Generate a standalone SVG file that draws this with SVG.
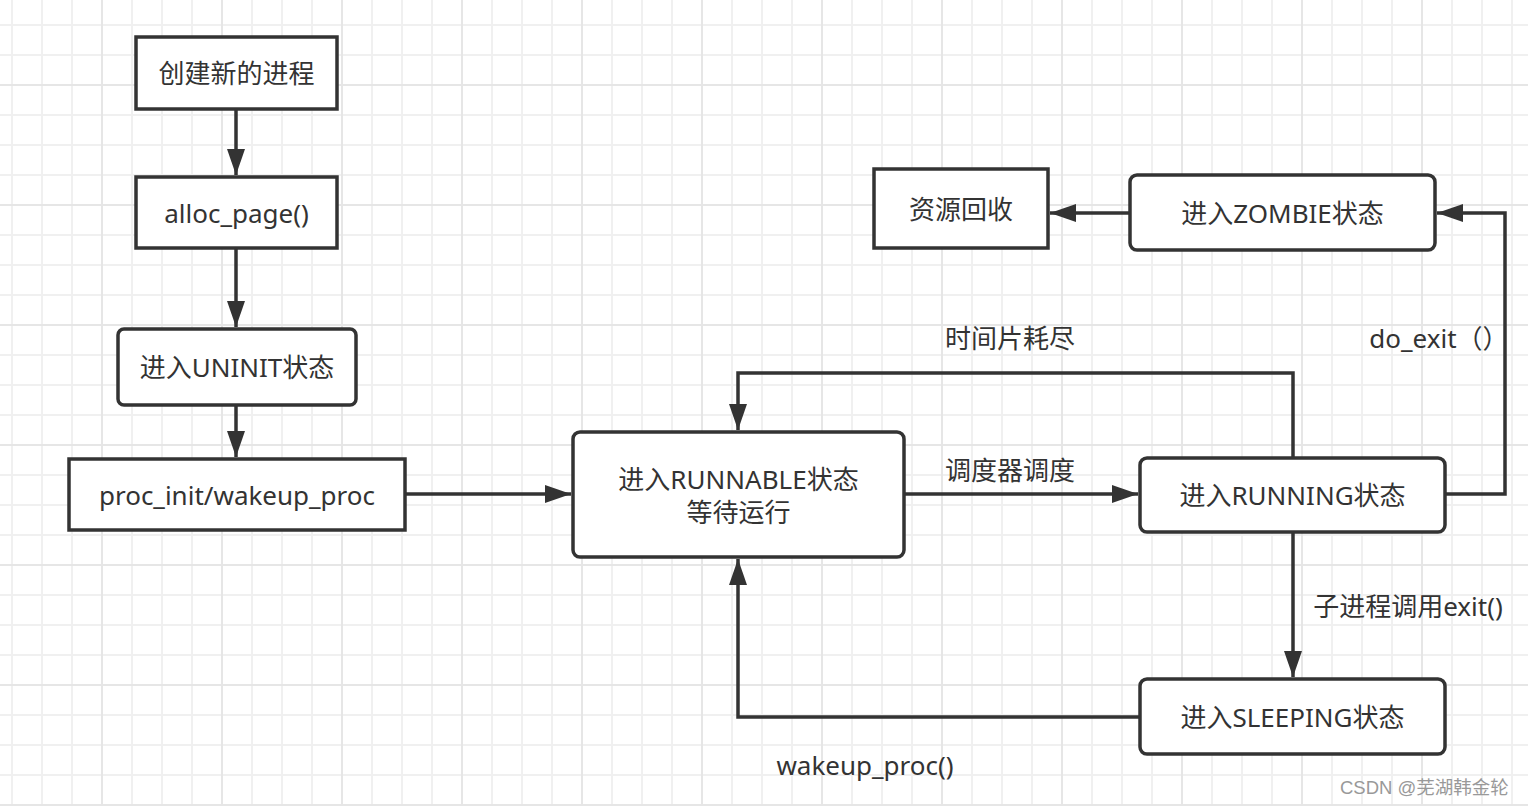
<svg xmlns="http://www.w3.org/2000/svg" width="1528" height="806" viewBox="0 0 1528 806">
<style>
.box{fill:#fff;stroke:#333;stroke-width:3.5}
.t{font-family:"Noto Sans","Noto Sans CJK SC",sans-serif;font-size:26px;fill:#333;text-anchor:middle;dominant-baseline:central}
.ln{fill:none;stroke:#333;stroke-width:3.5}
.wm{font-family:"Liberation Sans","Noto Sans CJK SC",sans-serif;font-size:18.5px;fill:#999;dominant-baseline:central}
</style>
<defs>
<pattern id="g1" x="11" y="24" width="30" height="30" patternUnits="userSpaceOnUse">
<rect x="0" y="0" width="2" height="30" fill="#f0f0f0"/>
<rect x="0" y="0" width="30" height="2" fill="#f0f0f0"/>
</pattern>
<pattern id="g2" x="101" y="84" width="120" height="120" patternUnits="userSpaceOnUse">
<rect x="0" y="0" width="2" height="120" fill="#e6e6e6"/>
<rect x="0" y="0" width="120" height="2" fill="#e6e6e6"/>
</pattern>
<marker id="ah" viewBox="0 0 26 18" refX="26" refY="9" markerWidth="26" markerHeight="18" markerUnits="userSpaceOnUse" orient="auto">
<path d="M0,0 L26,9 L0,18 Z" fill="#333"/>
</marker>
</defs>
<rect width="1528" height="806" fill="#fff"/>
<rect width="1528" height="806" fill="url(#g1)"/>
<rect width="1528" height="806" fill="url(#g2)"/>

<g id="connectors">
<path class="ln" d="M236,109 V175" marker-end="url(#ah)"/>
<path class="ln" d="M236,248 V327" marker-end="url(#ah)"/>
<path class="ln" d="M236,405 V457" marker-end="url(#ah)"/>
<path class="ln" d="M405,494 H571" marker-end="url(#ah)"/>
<path class="ln" d="M904,494 H1138" marker-end="url(#ah)"/>
<path class="ln" d="M1293,458 V373 H738 V430" marker-end="url(#ah)"/>
<path class="ln" d="M1445,494 H1505 V213 H1437" marker-end="url(#ah)"/>
<path class="ln" d="M1130,213 H1050" marker-end="url(#ah)"/>
<path class="ln" d="M1293,532 V677" marker-end="url(#ah)"/>
<path class="ln" d="M1140,717 H738 V559" marker-end="url(#ah)"/>
<text class="t" x="1010" y="338">时间片耗尽</text>
<text class="t" x="1010" y="470">调度器调度</text>
<text class="t" x="1439" y="338">do_exit（）</text>
<text class="t" x="1408" y="606">子进程调用exit()</text>
<text class="t" x="865" y="765">wakeup_proc()</text>
</g>

<g id="n1"><rect class="box" x="136" y="37" width="201" height="72"/><text class="t" x="236.5" y="73">创建新的进程</text></g>
<g id="n2"><rect class="box" x="136" y="177" width="201" height="71"/><text class="t" x="236.5" y="213">alloc_page()</text></g>
<g id="n3"><rect class="box" x="118" y="329" width="238" height="76" rx="6"/><text class="t" x="237" y="367">进入UNINIT状态</text></g>
<g id="n4"><rect class="box" x="69" y="459" width="336" height="71"/><text class="t" x="237" y="495">proc_init/wakeup_proc</text></g>
<g id="n5"><rect class="box" x="573" y="432" width="331" height="125" rx="7"/><text class="t" x="738.5" y="479">进入RUNNABLE状态</text><text class="t" x="738.5" y="512">等待运行</text></g>
<g id="n6"><rect class="box" x="1140" y="458" width="305" height="74" rx="7"/><text class="t" x="1292.5" y="495">进入RUNNING状态</text></g>
<g id="n7"><rect class="box" x="1130" y="175" width="305" height="75" rx="7"/><text class="t" x="1282.5" y="213">进入ZOMBIE状态</text></g>
<g id="n8"><rect class="box" x="874" y="169" width="174" height="79"/><text class="t" x="961" y="209">资源回收</text></g>
<g id="n9"><rect class="box" x="1140" y="679" width="305" height="75" rx="7"/><text class="t" x="1292.5" y="717">进入SLEEPING状态</text></g>

<text class="wm" x="1340" y="787">CSDN @芜湖韩金轮</text>
</svg>
